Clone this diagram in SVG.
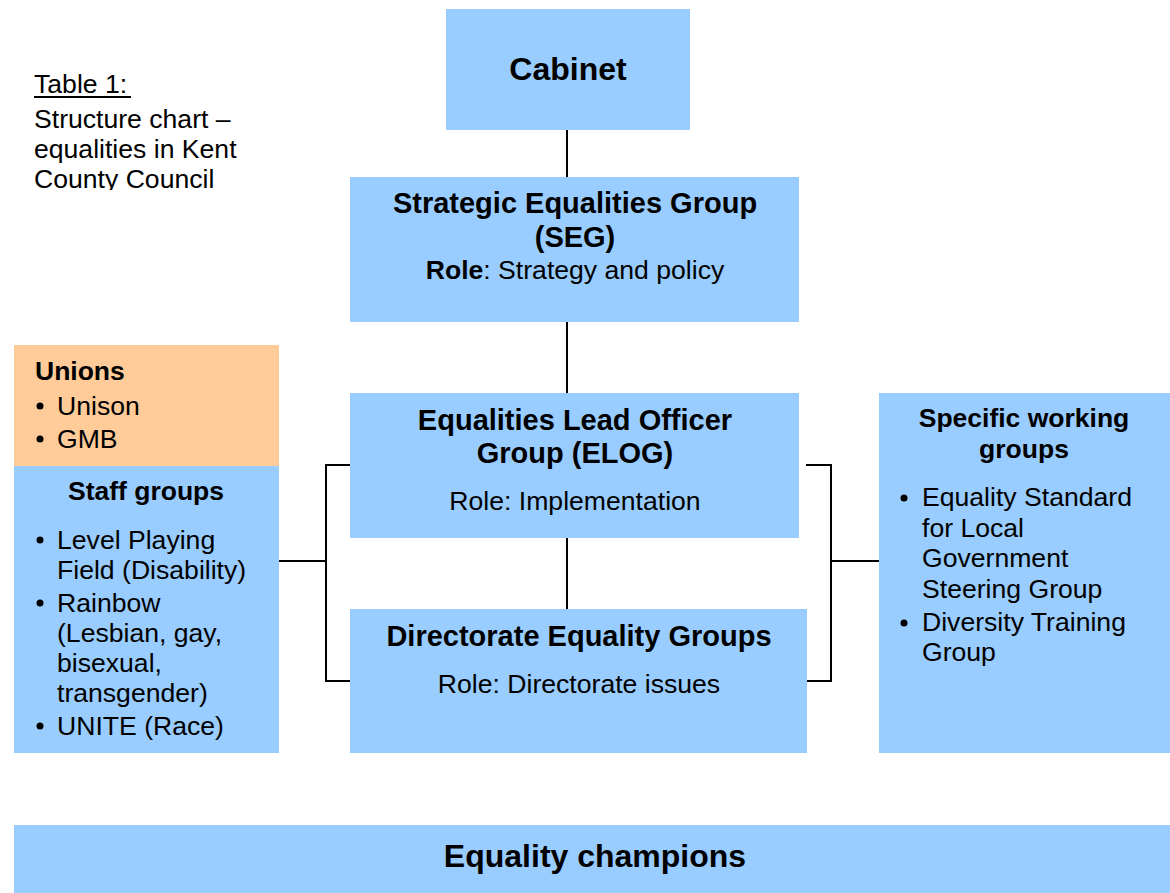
<svg xmlns="http://www.w3.org/2000/svg" width="1170" height="893" viewBox="0 0 1170 893">
  <style>
    text { font-family: "Liberation Sans", Arial, sans-serif; fill: #000; }
    .box { fill: #99CCFF; }
    .union { fill: #FFCC99; }
    .h1 { font-size: 29px; font-weight: bold; text-anchor: middle; }
    .big { font-size: 32px; }
    .h2 { font-size: 26.5px; font-weight: bold; }
    .t { font-size: 26.6px; }
    .c { text-anchor: middle; }
    .link { stroke: #000; stroke-width: 2; fill: none; }
  </style>
  <defs>
    <clipPath id="captionClip">
      <rect x="0" y="0" width="300" height="190"/>
    </clipPath>
  </defs>

  <rect width="1170" height="893" fill="#fff"/>

  <!-- caption -->
  <g id="caption" clip-path="url(#captionClip)">
    <text class="t" x="34" y="93">Table 1:</text>
    <rect x="34" y="96" width="97" height="2" fill="#000"/>
    <text class="t" x="34" y="128">Structure chart –</text>
    <text class="t" x="34" y="158">equalities in Kent</text>
    <text class="t" x="34" y="188">County Council</text>
  </g>

  <!-- connectors -->
  <g id="connectors">
    <line class="link" x1="567" y1="130" x2="567" y2="177"/>
    <line class="link" x1="567" y1="322" x2="567" y2="393"/>
    <line class="link" x1="567" y1="538" x2="567" y2="609"/>
    <polyline class="link" points="350,465 326,465 326,681 350,681"/>
    <line class="link" x1="279" y1="561" x2="326" y2="561"/>
    <polyline class="link" points="806,465 831,465 831,681 807,681"/>
    <line class="link" x1="831" y1="561" x2="879" y2="561"/>
  </g>

  <g id="cabinet">
    <rect class="box" x="446" y="9" width="244" height="121"/>
    <text class="h1 big" x="568" y="80">Cabinet</text>
  </g>

  <g id="seg">
    <rect class="box" x="350" y="177" width="449" height="145"/>
    <text class="h1" x="575" y="213">Strategic Equalities Group</text>
    <text class="h1" x="575" y="247">(SEG)</text>
    <text class="t c" x="575" y="279"><tspan font-weight="bold">Role</tspan>: Strategy and policy</text>
  </g>

  <g id="elog">
    <rect class="box" x="350" y="393" width="449" height="145"/>
    <text class="h1" x="575" y="430">Equalities Lead Officer</text>
    <text class="h1" x="575" y="463">Group (ELOG)</text>
    <text class="t c" x="575" y="510">Role: Implementation</text>
  </g>

  <g id="directorate">
    <rect class="box" x="350" y="609" width="457" height="144"/>
    <text class="h1" x="579" y="646">Directorate Equality Groups</text>
    <text class="t c" x="579" y="693">Role: Directorate issues</text>
  </g>

  <g id="unions">
    <rect class="union" x="14" y="345" width="265" height="121"/>
    <text class="h2" x="35" y="380">Unions</text>
    <circle cx="40" cy="406" r="3.5"/>
    <text class="t" x="57" y="415">Unison</text>
    <circle cx="40" cy="439" r="3.5"/>
    <text class="t" x="57" y="448">GMB</text>
  </g>

  <g id="staff-groups">
    <rect class="box" x="14" y="466" width="265" height="287"/>
    <text class="h2 c" x="146" y="500">Staff groups</text>
    <circle cx="40" cy="540" r="3.5"/>
    <text class="t" x="57" y="549">Level Playing</text>
    <text class="t" x="57" y="579">Field (Disability)</text>
    <circle cx="40" cy="603" r="3.5"/>
    <text class="t" x="57" y="612">Rainbow</text>
    <text class="t" x="57" y="642">(Lesbian, gay,</text>
    <text class="t" x="57" y="672">bisexual,</text>
    <text class="t" x="57" y="702">transgender)</text>
    <circle cx="40" cy="726" r="3.5"/>
    <text class="t" x="57" y="735">UNITE (Race)</text>
  </g>

  <g id="working-groups">
    <rect class="box" x="879" y="393" width="291" height="360"/>
    <text class="h2 c" x="1024" y="427">Specific working</text>
    <text class="h2 c" x="1024" y="458">groups</text>
    <circle cx="904" cy="498" r="3.5"/>
    <text class="t" x="922" y="506">Equality Standard</text>
    <text class="t" x="922" y="537">for Local</text>
    <text class="t" x="922" y="567">Government</text>
    <text class="t" x="922" y="598">Steering Group</text>
    <circle cx="904" cy="623" r="3.5"/>
    <text class="t" x="922" y="631">Diversity Training</text>
    <text class="t" x="922" y="661">Group</text>
  </g>

  <g id="champions">
    <rect class="box" x="14" y="825" width="1156" height="68"/>
    <text x="595" y="867" font-size="32" font-weight="bold" text-anchor="middle">Equality champions</text>
  </g>
</svg>
